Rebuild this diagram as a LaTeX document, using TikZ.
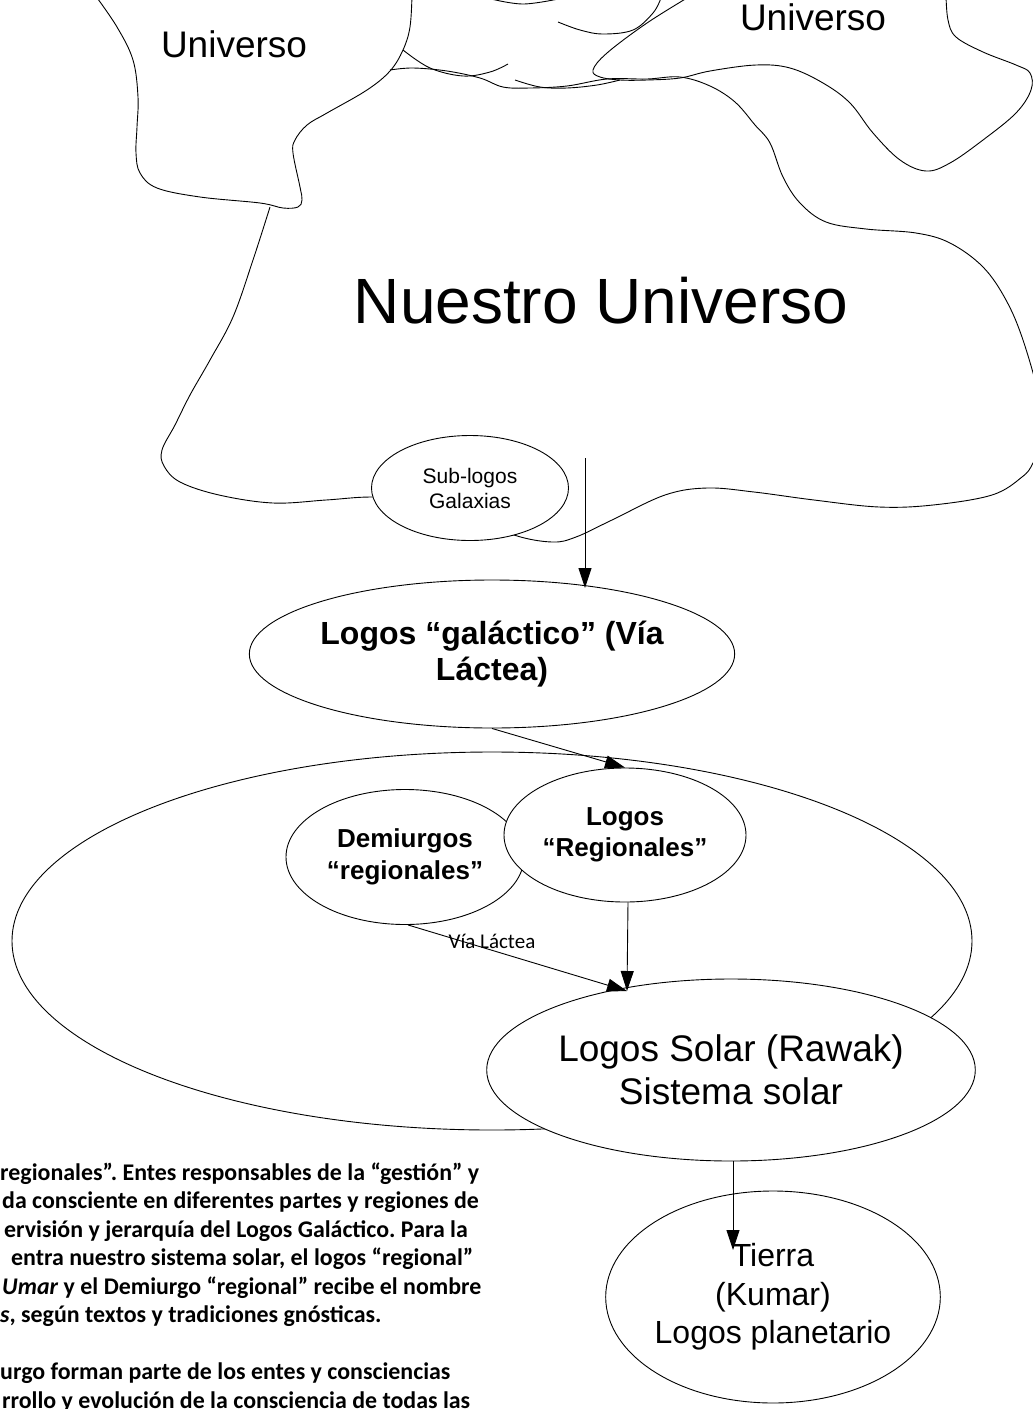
\documentclass[tikz,border=0pt]{standalone}
\usepackage{fontspec}
\setmainfont{Liberation Sans}
\newfontfamily\calib{Carlito}
\usetikzlibrary{shapes.geometric,arrows.meta}
\frenchspacing
\begin{document}
\begin{tikzpicture}[x=1pt,y=-1pt,
  blob/.style={line width=0.9pt, line join=round},
  oval/.style={ellipse, draw, fill=white, line width=0.9pt, inner sep=0pt, align=center},
  arr/.style={-{Triangle[length=20pt,width=13pt]}, line width=0.9pt},
  para/.style={anchor=base west, inner sep=0pt, font=\calib\bfseries\fontsize{23.9}{28.5}\selectfont}]
\useasboundingbox[fill=white] (0,0) rectangle (1033,1409);

% ---- universe blobs ----
\draw[blob] plot[smooth, tension=0.6] coordinates {(95,-5) (117,27) (133,60) (138,97) (137,127) (136,153) (140,173) (157,188) (200,197) (260,203) (283,208) (298,207) (302,200) (300,187) (293,153) (295,140) (307,125) (327,113) (367,90) (390,71) (403,50) (410,27) (412,-5)};
\draw[blob] plot[smooth, tension=0.6] coordinates {(390,70) (413,68) (447,71) (480,78) (503,87) (530,88) (567,86) (607,79) (647,79) (680,77) (710,86) (735,102) (755,125) (770,143) (783,177) (800,203) (826,222) (866,229) (916,233) (950,243) (983,267) (1006,300) (1023,340) (1040,400) (1044,435) (1033,463) (1022,477) (992,495) (933,505) (879,507) (814,500) (754,492) (707,488) (665,495) (612,520) (576,537) (552,542) (514,535) (470,515) (420,500) (371,497) (326,500) (273,503) (219,495) (180,482) (164,466) (162,450) (175,425) (190,395) (210,360) (233,317) (253,260) (270,207)};
\draw[blob] plot[smooth, tension=0.6] coordinates {(692,-5) (647,23) (607,53) (593,70) (600,77) (620,80) (647,80) (680,78) (710,71) (756,65) (790,68) (823,83) (850,103) (873,133) (900,160) (926,171) (950,163) (983,140) (1016,113) (1031,90) (1030,73) (1016,65) (983,52) (956,37) (948,20) (946,-5)};
\draw[blob] plot[smooth, tension=0.6] coordinates {(487,-2) (523,4) (563,-2)};
\draw[blob] plot[smooth, tension=0.6] coordinates {(558,22) (580,30) (603,34) (633,30) (653,13) (661,-2)};
\draw[blob] plot[smooth, tension=0.6] coordinates {(403,50) (430,68) (463,76) (490,72) (508,64)};
\draw[blob] plot[smooth, tension=0.6] coordinates {(515,80) (540,87) (567,88) (597,85) (620,80)};

\node[inner sep=0pt, font=\fontsize{37}{43}\selectfont] (u1) at (234,44) {Universo};
\node[inner sep=0pt, font=\fontsize{37}{43}\selectfont] (u2) at (813,17) {Universo};
\node[inner sep=0pt, font=\fontsize{64}{74}\selectfont] (nu) at (601,301) {Nuestro Universo};

% ---- ellipses ----
\node[oval, minimum width=960pt, minimum height=378pt] (via) at (492,941) {};
\node[oval, minimum width=238pt, minimum height=135pt, font=\bfseries\fontsize{26}{31.5}\selectfont] (dem) at (405,857) {Demiurgos\\“regionales”};
\node[oval, minimum width=242pt, minimum height=134pt, font=\bfseries\fontsize{26}{31.5}\selectfont] (reg) at (625,835) {Logos\\“Regionales”};
\node[oval, minimum width=476pt, minimum height=182pt, font=\fontsize{37}{43}\selectfont] (sol) at (731,1070) {Logos Solar (Rawak)\\Sistema solar};
\node[oval, minimum width=197pt, minimum height=105pt, font=\fontsize{21}{25}\selectfont] (sub) at (470,488) {Sub-logos\\Galaxias};
\node[oval, minimum width=416pt, minimum height=148pt, font=\bfseries\fontsize{32}{36}\selectfont] (gal) at (492,654) {Logos “galáctico” (Vía\\Láctea)};
\node[oval, minimum width=302pt, minimum height=212pt, font=\fontsize{32}{38.5}\selectfont] (tie) at (773,1297) {Tierra\\(Kumar)\\Logos planetario};

\node[inner sep=0pt, anchor=base, font=\calib\fontsize{21}{25}\selectfont] (vl) at (492,948) {Vía Láctea};

% ---- connectors ----
\coordinate (s0) at (585,458);
\coordinate (t1) at (627,991);
\coordinate (t3) at (733,1250);
\draw[arr] (s0) -- (585,588);
\draw[arr] (gal.south) -- (reg.north);
\draw[arr] ([xshift=3pt]reg.south) -- (t1);
\draw[arr] ([xshift=3pt]dem.south) -- (t1);
\draw[arr] ([xshift=2pt]sol.south) -- (t3);

% ---- paragraph ----
\node[para] (p1) at (0,1180) {regionales”. Entes responsables de la “gestión” y};
\node[para] (p2) at (2,1208.5) {da consciente en diferentes partes y regiones de};
\node[para] (p3) at (4,1237) {ervisión y jerarquía del Logos Galáctico. Para la};
\node[para] (p4) at (11,1265.5) {entra nuestro sistema solar, el logos “regional”};
\node[para] (p5) at (2,1294) {\textit{Umar} y el Demiurgo “regional” recibe el nombre};
\node[para] (p6) at (0,1322.5) {\textit{s}, según textos y tradiciones gnósticas.};
\node[para] (p7) at (0,1379.5) {urgo forman parte de los entes y consciencias};
\node[para] (p8) at (2,1408) {rrollo y evolución de la consciencia de todas las};
\end{tikzpicture}
\end{document}
